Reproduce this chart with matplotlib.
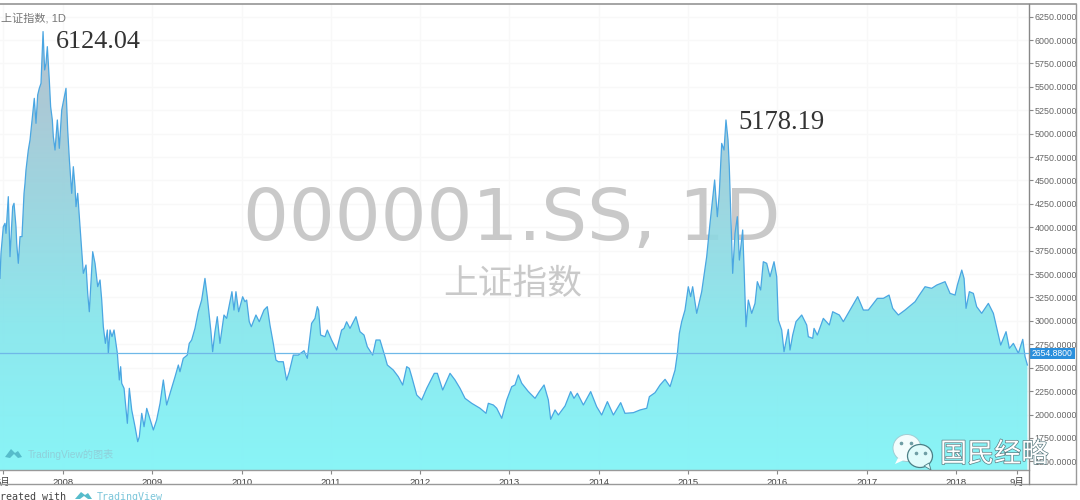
import matplotlib

matplotlib.use("Agg")
import matplotlib.pyplot as plt
import numpy as np
from matplotlib.colors import LinearSegmentedColormap
from matplotlib.patches import Ellipse, Polygon, Rectangle
import matplotlib.patheffects as pe

plt.rcParams["font.family"] = ["Liberation Sans", "Noto Sans CJK SC", "DejaVu Sans"]

# dates as year fractions, closes
dates = [
    2007.295, 2007.306, 2007.332, 2007.351, 2007.362, 2007.388, 2007.407, 2007.437, 2007.452, 2007.474,
    2007.482, 2007.500, 2007.519, 2007.541, 2007.564, 2007.575, 2007.586, 2007.612, 2007.631, 2007.650,
    2007.679, 2007.698, 2007.717, 2007.735, 2007.754, 2007.777, 2007.795, 2007.810, 2007.825, 2007.847,
    2007.862, 2007.881, 2007.892, 2007.911, 2007.937, 2007.959, 2007.986, 2008.034, 2008.053, 2008.072,
    2008.098, 2008.116, 2008.135, 2008.146, 2008.165, 2008.191, 2008.210, 2008.228, 2008.258, 2008.277,
    2008.295, 2008.333, 2008.359, 2008.389, 2008.415, 2008.434, 2008.452, 2008.475, 2008.497, 2008.508,
    2008.527, 2008.549, 2008.572, 2008.609, 2008.631, 2008.646, 2008.658, 2008.684, 2008.721, 2008.743,
    2008.770, 2008.807, 2008.837, 2008.855, 2008.882, 2008.908, 2008.938, 2008.967, 2009.012, 2009.049,
    2009.087, 2009.124, 2009.161, 2009.199, 2009.255, 2009.292,
    2009.310, 2009.347, 2009.392, 2009.414, 2009.441, 2009.478, 2009.515, 2009.553, 2009.590, 2009.616,
    2009.635, 2009.657, 2009.676, 2009.702, 2009.728, 2009.758, 2009.803, 2009.833, 2009.870, 2009.892,
    2009.915, 2009.937, 2009.967, 2010.012, 2010.038, 2010.057, 2010.086, 2010.109, 2010.161, 2010.198,
    2010.251, 2010.288, 2010.318, 2010.355, 2010.385, 2010.411, 2010.467, 2010.504, 2010.534, 2010.579,
    2010.635, 2010.699, 2010.736, 2010.784, 2010.822, 2010.848, 2010.863, 2010.885, 2010.934, 2010.960,
    2011.008, 2011.064, 2011.120, 2011.147, 2011.176, 2011.214, 2011.281, 2011.326, 2011.371, 2011.408,
    2011.468, 2011.505, 2011.550, 2011.606, 2011.632, 2011.699, 2011.755, 2011.804, 2011.849, 2011.878,
    2011.905, 2011.961, 2012.017, 2012.073, 2012.158, 2012.192, 2012.252, 2012.334, 2012.390, 2012.446,
    2012.502, 2012.577, 2012.670, 2012.737, 2012.763, 2012.819, 2012.857, 2012.913, 2012.969, 2013.025,
    2013.062, 2013.099, 2013.137, 2013.211, 2013.286, 2013.334, 2013.387, 2013.435, 2013.461, 2013.510,
    2013.547, 2013.622, 2013.685, 2013.722, 2013.760, 2013.827, 2013.909, 2013.976, 2014.032, 2014.096,
    2014.163, 2014.245, 2014.293, 2014.387, 2014.462, 2014.537, 2014.566, 2014.630, 2014.686, 2014.742,
    2014.798, 2014.854, 2014.880, 2014.902, 2014.928,
    2014.965, 2015.002, 2015.028, 2015.051, 2015.096, 2015.152, 2015.208, 2015.245, 2015.297, 2015.327,
    2015.349, 2015.376, 2015.402, 2015.424, 2015.447, 2015.461, 2015.476, 2015.499, 2015.525, 2015.551,
    2015.574, 2015.611, 2015.626, 2015.648, 2015.674, 2015.712, 2015.749, 2015.775, 2015.812, 2015.842,
    2015.880, 2015.917, 2015.962, 2015.992,
    2016.010, 2016.048, 2016.074, 2016.122, 2016.141, 2016.171, 2016.208, 2016.272, 2016.328, 2016.346,
    2016.395, 2016.410, 2016.447, 2016.514, 2016.581, 2016.619, 2016.693, 2016.738, 2016.813, 2016.899,
    2016.962, 2017.018, 2017.119, 2017.186, 2017.250, 2017.291, 2017.354, 2017.429, 2017.541, 2017.589,
    2017.653, 2017.727, 2017.784, 2017.877, 2017.933, 2017.989, 2018.015, 2018.064, 2018.090, 2018.112,
    2018.149, 2018.194, 2018.231, 2018.287, 2018.362, 2018.418, 2018.474, 2018.500, 2018.560, 2018.597,
    2018.642, 2018.698, 2018.747, 2018.773, 2018.799,
]
closes = [
    3455, 3722, 4006, 4042, 3935, 4327, 3686, 4220, 4256, 4006,
    3828, 3615, 3900, 3900, 4362, 4469, 4612, 4825, 4932, 5110,
    5377, 5110, 5413, 5484, 5537, 6090, 5680, 5751, 5929, 5573,
    5288, 5146, 4968, 4825, 5146, 4843, 5252, 5484, 5039, 4718,
    4362, 4647, 4434, 4220, 4362, 4006, 3757, 3508, 3597, 3294,
    3098, 3739, 3615, 3366, 3437, 3223, 2938, 2760, 2903, 2654,
    2903, 2832, 2903, 2654, 2369, 2511, 2333, 2280, 1906, 2280,
    2048, 1870, 1710, 1763, 2013, 1870, 2066, 1977, 1835, 1942,
    2120, 2369, 2102, 2226, 2404, 2529,
    2457, 2600, 2635, 2760, 2796, 2920, 3098, 3223, 3454, 3258,
    3080, 2885, 2671, 2885, 3045, 2760, 3063, 3027, 3205, 3312,
    3116, 3312, 3098, 3258, 3205, 3223, 2991, 2938, 3063, 2991,
    3116, 3152, 2956, 2760, 2582, 2564, 2564, 2368, 2457, 2635,
    2635, 2682, 2600, 2974, 3027, 3152, 3116, 2849, 2831, 2902,
    2796, 2689, 2902, 2920, 2991, 2920, 3045, 2885, 2849, 2724,
    2635, 2796, 2796, 2618, 2529, 2475, 2404, 2315, 2511, 2493,
    2405, 2209, 2156, 2280, 2440, 2440, 2262, 2440, 2369, 2280,
    2173, 2120, 2067, 2013, 2120, 2102, 2067, 1960, 2156, 2298,
    2316, 2423, 2334, 2245, 2173, 2245, 2316, 2156, 1949, 2049,
    1995, 2092, 2245, 2173, 2227, 2102, 2245, 2084, 1995, 2138,
    1995, 2127, 2013, 2020, 2049, 2067, 2191, 2234, 2316, 2376,
    2298, 2476, 2654, 2868, 2992,
    3116, 3365, 3259, 3365, 3081, 3312, 3686, 4042, 4505, 4113,
    4362, 4896, 4825, 5146, 4932, 4647, 4184, 3508, 3935, 4113,
    3650, 3971, 3579, 2938, 3223, 3081, 3187, 3419, 3330, 3632,
    3615, 3472, 3632, 3472,
    3009, 2903, 2671, 2910, 2689, 2849, 2992, 3063, 2956, 2831,
    2814, 2920, 2849, 3027, 2956, 3098, 3063, 2992, 3116, 3259,
    3116, 3116, 3241, 3241, 3276, 3134, 3063, 3116, 3205, 3276,
    3365, 3348, 3383, 3419, 3294, 3276, 3383, 3543, 3454, 3134,
    3312, 3294, 3152, 3081, 3187, 3081, 2849, 2742, 2885, 2707,
    2760, 2654, 2803, 2618, 2529,
]
last_close = 2654.88
y_ticks = [1500, 1750, 2000, 2250, 2500, 2750, 3000, 3250, 3500, 3750, 4000, 4250,
           4500, 4750, 5000, 5250, 5500, 5750, 6000, 6250]
x_ticks = [2007.33, 2008, 2009, 2010, 2011, 2012, 2013, 2014, 2015, 2016, 2017, 2018, 2018.68]
x_labels = ["5月", "2008", "2009", "2010", "2011", "2012", "2013", "2014", "2015", "2016", "2017", "2018", "9月"]

W, H = 1080, 500
PLOT_R, PLOT_T, PLOT_B = 1029, 4, 470

fig = plt.figure(figsize=(W / 100, H / 100), dpi=100, facecolor="white")
ax = fig.add_axes([0, 1 - PLOT_B / H, PLOT_R / W, (PLOT_B - PLOT_T) / H])
ax.set_xlim(2007.295, 2018.817)
ax.set_ylim(1407.6, 6384.5)
ax.grid(True, color="#f8f8f8", linewidth=1)
ax.set_axisbelow(True)
for side in ["top", "left", "bottom", "right"]:
    ax.spines[side].set_visible(False)

ax.yaxis.tick_right()
ax.set_yticks(y_ticks, [f"{v:.4f}" for v in y_ticks])
ax.set_xticks(x_ticks, x_labels)
ax.tick_params(axis="y", length=3, width=0.8, color="#888888", labelcolor="#666666", labelsize=6.4, pad=1)
ax.tick_params(axis="x", length=3, width=0.8, color="#888888", labelcolor="#444444", labelsize=6.8, pad=2.5)

# watermark goes under the translucent fill
ax.text(0.4975, 1 - (240 - PLOT_T) / (PLOT_B - PLOT_T), "000001.SS, 1D", transform=ax.transAxes, ha="center",
        va="baseline", fontsize=52, color="#c9c9c9", family="DejaVu Sans", zorder=1)
ax.text(0.4985, 1 - (294 - PLOT_T) / (PLOT_B - PLOT_T), "上证指数", transform=ax.transAxes, ha="center",
        va="baseline", fontsize=25, color="#c9c9c9", family="Noto Sans CJK SC", zorder=1)

# gradient area under the close line
cmap = LinearSegmentedColormap.from_list("area", ["#7ff4f7", "#84e6ec", "#98cfdb", "#b0bccb"])
grad = np.linspace(0, 1, 256).reshape(-1, 1)
img = ax.imshow(grad, origin="lower", aspect="auto", cmap=cmap, alpha=0.92, zorder=2,
                extent=[2007.295, 2018.817, 1407.6, 6100])
clip = Polygon(list(zip([dates[0]] + dates + [dates[-1]], [1407.6] + closes + [1407.6])),
               closed=True, transform=ax.transData, facecolor="none", edgecolor="none")
ax.add_patch(clip)
img.set_clip_path(clip)
ax.set_xlim(2007.295, 2018.817)
ax.set_ylim(1407.6, 6384.5)

ax.plot(dates, closes, color="#4aa6e2", linewidth=0.9, zorder=3)
ax.axhline(last_close, color="#6fb8e8", linewidth=0.9, zorder=3)

# pixel-space overlay for frame, labels and logos
ov = fig.add_axes([0, 0, 1, 1], facecolor="none")
ov.set_xlim(0, W)
ov.set_ylim(H, 0)
ov.axis("off")

ov.plot([0, 1076], [4, 4], color="#8c8c8c", lw=1.1)
ov.plot([0, 1076], [484, 484], color="#999999", lw=1)
ov.plot([0, 1029], [470, 470], color="#999999", lw=1)
ov.plot([1029, 1029], [4, 484], color="#888888", lw=1)
ov.plot([1076, 1076], [4, 484], color="#999999", lw=1)

ov.add_patch(Rectangle((1029, 348), 46, 11, facecolor="#2b8fdc", edgecolor="none"))
ov.text(1052, 353.8, f"{last_close:.4f}", color="white", fontsize=6.2, ha="center", va="center")

ov.text(1, 18, "上证指数, 1D", color="#777777", fontsize=8, va="center")
ov.text(56, 48, "6124.04", color="#333333", fontsize=18.8, family="Liberation Serif", va="baseline")
ov.text(738, 129, "5178.19", color="#333333", fontsize=19.2, family="Liberation Serif", va="baseline")

# TradingView logo + caption
ov.add_patch(Polygon([(5, 457), (11, 449), (15, 453), (18, 451), (22, 457), (18, 458), (14, 454), (10, 458)],
                     facecolor="#56bccb", edgecolor="none"))
ov.text(28, 455, "TradingView的图表", color="#8fd0da", fontsize=7.3, va="center")
ov.text(-6, 497.5, "created with", color="#444444", fontsize=7.2, family="DejaVu Sans Mono", va="center")
ov.add_patch(Polygon([(75, 499), (81, 492), (85, 495), (88, 493), (92, 499), (88, 499), (84, 496), (80, 499)],
                     facecolor="#56bccb", edgecolor="none"))
ov.text(97, 497.5, "TradingView", color="#7cc6da", fontsize=7.2, family="DejaVu Sans Mono", va="center")

# WeChat-style badge
ov.add_patch(Ellipse((907, 448), 28, 27, facecolor="white", edgecolor="#9fc9cf", lw=0.7, alpha=0.9))
ov.add_patch(Polygon([(898, 458), (895, 464), (904, 460)], facecolor="white", edgecolor="none"))
ov.add_patch(Ellipse((920, 456), 25, 23, facecolor="#dffbfb", edgecolor="#4b7f86", lw=0.9))
ov.add_patch(Polygon([(924, 466), (931, 470), (929, 463)], facecolor="#dffbfb", edgecolor="#4b7f86", lw=0.6))
ov.plot([901, 911, 916, 925], [443, 443, 453, 453], ls="none", marker="o", ms=1.6, color="#6f9ea5")
ov.text(940, 462, "国民经略", color="white", fontsize=19.5, family="Noto Sans CJK SC", va="baseline",
        path_effects=[pe.withStroke(linewidth=1.0, foreground="#5b7c82")])

fig.savefig("out.png", dpi=100)
